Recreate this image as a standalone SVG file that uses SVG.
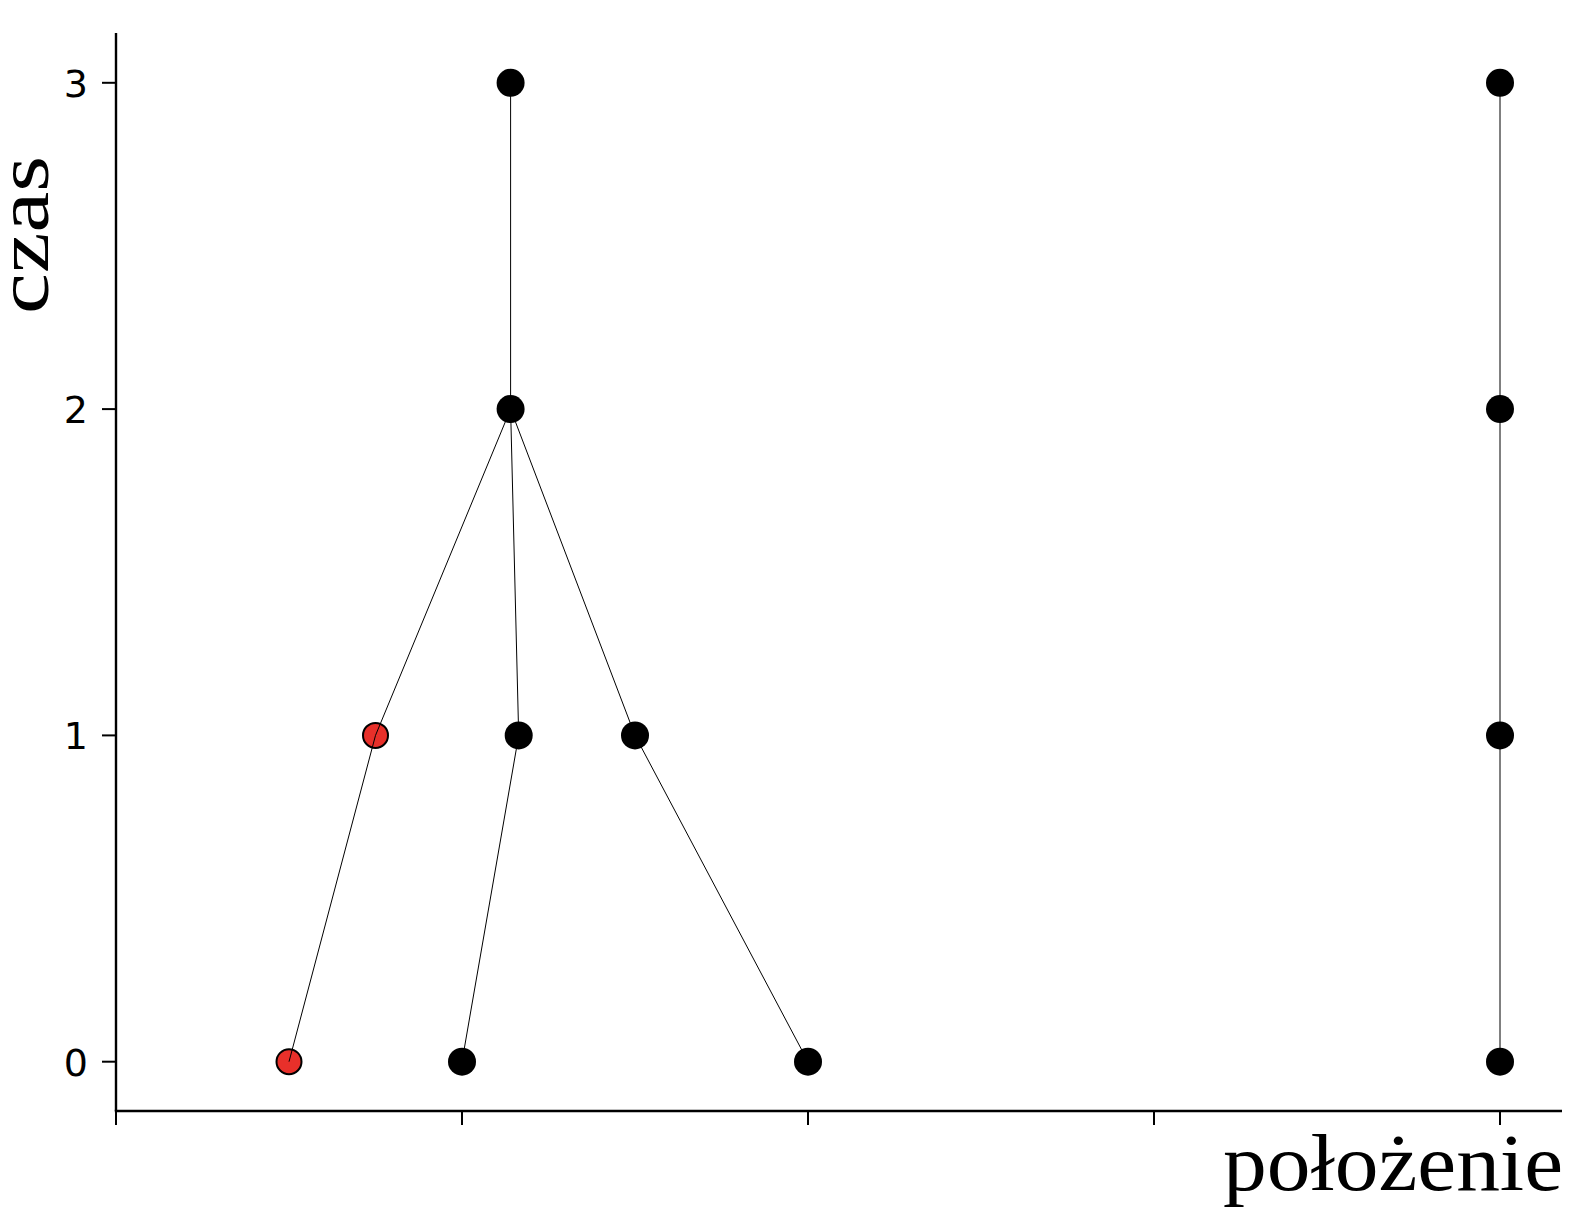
<svg xmlns="http://www.w3.org/2000/svg" width="1576" height="1220" viewBox="0 0 1576 1220">
<style>
.ax{stroke:#000;stroke-width:2.4;fill:none;stroke-linecap:butt}
.tk{stroke:#000;stroke-width:2;fill:none}
.tl{font-family:"DejaVu Sans",sans-serif;font-size:38px;fill:#000}
.lab{font-family:"Liberation Serif","DejaVu Serif",serif;font-size:80px;fill:#000}
.e{stroke:#000;stroke-width:1;fill:none}
.n{fill:#000}
.r{fill:#e8302a;stroke:#000;stroke-width:2}
</style>
<rect width="1576" height="1220" fill="#fff"/>
<g id="axes">
<line class="ax" x1="116" y1="33" x2="116" y2="1111"/>
<line class="ax" x1="114.8" y1="1111" x2="1562" y2="1111"/>
<line class="tk" x1="102" y1="82.8" x2="116" y2="82.8"/>
<line class="tk" x1="102" y1="409.1" x2="116" y2="409.1"/>
<line class="tk" x1="102" y1="735.4" x2="116" y2="735.4"/>
<line class="tk" x1="102" y1="1061.7" x2="116" y2="1061.7"/>
<line class="tk" x1="116" y1="1111" x2="116" y2="1125"/>
<line class="tk" x1="462" y1="1111" x2="462" y2="1125"/>
<line class="tk" x1="808" y1="1111" x2="808" y2="1125"/>
<line class="tk" x1="1154" y1="1111" x2="1154" y2="1125"/>
<line class="tk" x1="1500" y1="1111" x2="1500" y2="1125"/>
<text class="tl" x="88" y="96.6" text-anchor="end">3</text>
<text class="tl" x="88" y="422.9" text-anchor="end">2</text>
<text class="tl" x="88" y="749.2" text-anchor="end">1</text>
<text class="tl" x="88" y="1075.5" text-anchor="end">0</text>
<text class="lab" transform="translate(48,314) rotate(-90)" textLength="158" lengthAdjust="spacingAndGlyphs" style="font-size:75px">czas</text>
<text class="lab" x="1223" y="1190" textLength="340" lengthAdjust="spacingAndGlyphs">położenie</text>
</g>
<g id="nodes">
<g id="n_a0"><circle class="r" cx="289" cy="1061.7" r="12.5"/></g>
<g id="n_b0"><circle class="n" cx="462" cy="1061.7" r="14"/></g>
<g id="n_c0"><circle class="n" cx="808" cy="1061.7" r="14"/></g>
<g id="n_d0"><circle class="n" cx="1500" cy="1061.7" r="14"/></g>
<g id="n_a1"><circle class="r" cx="375.5" cy="735.4" r="12.5"/></g>
<g id="n_b1"><circle class="n" cx="518.7" cy="735.4" r="14"/></g>
<g id="n_c1"><circle class="n" cx="635" cy="735.4" r="14"/></g>
<g id="n_d1"><circle class="n" cx="1500" cy="735.4" r="14"/></g>
<g id="n_m2"><circle class="n" cx="510.6" cy="409.1" r="14"/></g>
<g id="n_d2"><circle class="n" cx="1500" cy="409.1" r="14"/></g>
<g id="n_m3"><circle class="n" cx="510.6" cy="82.8" r="14"/></g>
<g id="n_d3"><circle class="n" cx="1500" cy="82.8" r="14"/></g>
</g>
<g id="connectors">
<line class="e" x1="510.6" y1="82.8" x2="510.6" y2="409.1"/>
<line class="e" x1="510.6" y1="409.1" x2="375.5" y2="735.4"/>
<line class="e" x1="375.5" y1="735.4" x2="289" y2="1061.7"/>
<line class="e" x1="510.6" y1="409.1" x2="518.7" y2="735.4"/>
<line class="e" x1="518.7" y1="735.4" x2="462" y2="1061.7"/>
<line class="e" x1="510.6" y1="409.1" x2="635" y2="735.4"/>
<line class="e" x1="635" y1="735.4" x2="808" y2="1061.7"/>
<line class="e" x1="1500" y1="82.8" x2="1500" y2="1061.7"/>
</g>
</svg>
